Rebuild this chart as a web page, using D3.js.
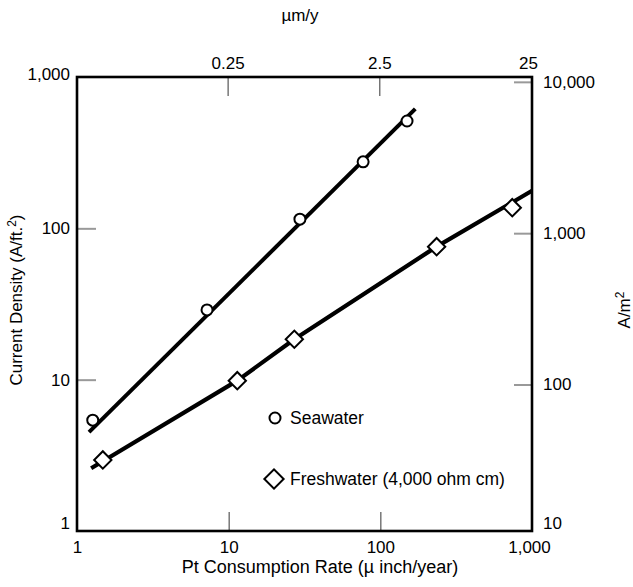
<!DOCTYPE html>
<html>
<head>
<meta charset="utf-8">
<script src="https://cdn.jsdelivr.net/npm/d3@7"></script>
<style>
  body { margin: 0; background: #fff; }
  svg text { font-family: "Liberation Sans", Arial, Helvetica, sans-serif; fill: #000; }
</style>
</head>
<body>
<svg id="chart" width="633" height="587"></svg>
<script>
// measured points, x = Pt consumption (µ inch/year), y = current density (A/ft²)
const seaX = [1.27, 7.2, 29.5, 77, 150]
const seaY = [5.4, 28.9, 115, 275, 512]
const freshX = [1.48, 11.4, 27.1, 235, 741]
const freshY = [2.95, 9.85, 18.5, 75.7, 137]

// hand drawn fit lines
const seaFitX = [1.2, 170]
const seaFitY = [4.5, 615]
const freshFitX = [1.24, 11.4, 27.1, 235, 1000]
const freshFitY = [2.6, 9.85, 18.5, 75.7, 177]

const bottomTicks = [1, 10, 100, 1000]
const leftTicks = [1, 10, 100, 1000]
const topTicks = [0.25, 2.5, 25]       // µm/y
const rightTicks = [10, 100, 1000, 10000] // A/m²

const seriesNames = ["Seawater", "Freshwater (4,000 ohm cm)"]

const UM_PER_UIN = 0.0254
const AM2_PER_AFT2 = 10.764

const svg = d3.select("#chart")
const margin = { top: 77, right: 101, bottom: 56, left: 77 }
const width = +svg.attr("width") - margin.left - margin.right
const height = +svg.attr("height") - margin.top - margin.bottom

const x = d3.scaleLog().domain([1, 1000]).range([0, width])
const y = d3.scaleLog().domain([1, 1000]).range([height, 0])
const xTop = d3.scaleLog().domain([UM_PER_UIN, 1000 * UM_PER_UIN]).range([0, width])
const yRight = d3.scaleLog().domain([AM2_PER_AFT2, 1000 * AM2_PER_AFT2]).range([height, 0])

const g = svg.append("g").attr("transform", "translate(" + margin.left + "," + margin.top + ")")

const fmt = d3.format(",")
const fs = "17px"

// axes, ticks drawn inward
const axB = g.append("g").attr("transform", "translate(0," + height + ")")
    .call(d3.axisBottom(x).tickValues(bottomTicks).tickFormat(fmt).tickSizeInner(-19).tickSizeOuter(0).tickPadding(10))
const axL = g.append("g")
    .call(d3.axisLeft(y).tickValues(leftTicks).tickFormat(fmt).tickSizeInner(-19).tickSizeOuter(0).tickPadding(7))
const axT = g.append("g")
    .call(d3.axisTop(xTop).tickValues(topTicks).tickFormat(d => d).tickSizeInner(-19).tickSizeOuter(0).tickPadding(8))
const axR = g.append("g").attr("transform", "translate(" + width + ",0)")
    .call(d3.axisRight(yRight).tickValues(rightTicks).tickFormat(fmt).tickSizeInner(-18).tickSizeOuter(0).tickPadding(11))

;[axB, axL, axT, axR].forEach(a => {
    a.select(".domain").remove()
    a.selectAll("text").style("font-size", fs).attr("fill", "#000")
})
axB.selectAll("line").attr("stroke", "#555").attr("stroke-width", 1.2)
axT.selectAll("line").attr("stroke", "#555").attr("stroke-width", 1.2)
axL.selectAll("line").attr("stroke", "#999").attr("stroke-width", 2)
axR.selectAll("line").attr("stroke", "#999").attr("stroke-width", 2)

// no tick marks at the corners
axB.selectAll(".tick").filter(d => d === 1 || d === 1000).select("line").remove()
axL.selectAll(".tick").filter(d => d === 1 || d === 1000).select("line").remove()
axT.selectAll(".tick").filter(d => d === 25).select("line").remove()
axR.selectAll(".tick").filter(d => d === 10).select("line").remove()
axB.selectAll(".tick").filter(d => d === 1000).select("text").attr("x", -3)
axT.selectAll(".tick").filter(d => d === 25).select("text").attr("x", -3)

// lowest labels sit above the corner
axL.selectAll(".tick").filter(d => d === 1).select("text").attr("y", -8)
axR.selectAll(".tick").filter(d => d === 10).select("text").attr("y", -13)
axL.selectAll(".tick").filter(d => d === 1000).select("text").attr("y", -3)

// frame
g.append("rect")
    .attr("width", width)
    .attr("height", height)
    .attr("fill", "none")
    .attr("stroke", "#000")
    .attr("stroke-width", 2.6)

// fit lines
const line = d3.line().x(d => x(d[0])).y(d => y(d[1]))
g.append("path")
    .datum(d3.zip(seaFitX, seaFitY))
    .attr("d", line)
    .attr("fill", "none").attr("stroke", "#000").attr("stroke-width", 4)
g.append("path")
    .datum(d3.zip(freshFitX, freshFitY))
    .attr("d", line)
    .attr("fill", "none").attr("stroke", "#000").attr("stroke-width", 4.2).attr("stroke-linejoin", "round")

// markers
g.selectAll(".sea")
    .data(d3.zip(seaX, seaY))
    .enter().append("circle")
    .attr("class", "sea")
    .attr("cx", d => x(d[0]))
    .attr("cy", d => y(d[1]))
    .attr("r", 5.5)
    .attr("fill", "#fff").attr("stroke", "#000").attr("stroke-width", 2)

const diamond = d3.symbol().type(d3.symbolSquare).size(150)
g.selectAll(".fresh")
    .data(d3.zip(freshX, freshY))
    .enter().append("path")
    .attr("class", "fresh")
    .attr("d", diamond)
    .attr("transform", d => "translate(" + x(d[0]) + "," + y(d[1]) + ") rotate(45)")
    .attr("fill", "#fff").attr("stroke", "#000").attr("stroke-width", 2)

// legend
const legend = svg.append("g").attr("transform", "translate(275,418)")
legend.append("circle").attr("r", 5.5)
    .attr("fill", "#fff").attr("stroke", "#000").attr("stroke-width", 2)
legend.append("text").attr("x", 15).attr("y", 6).style("font-size", "17.5px").text(seriesNames[0])
legend.append("path").attr("d", d3.symbol().type(d3.symbolSquare).size(185))
    .attr("transform", "translate(-1,61) rotate(45)")
    .attr("fill", "#fff").attr("stroke", "#000").attr("stroke-width", 2)
legend.append("text").attr("x", 15).attr("y", 67).style("font-size", "17.5px").text(seriesNames[1])

// axis titles
svg.append("text")
    .attr("x", 320)
    .attr("y", 573)
    .attr("text-anchor", "middle")
    .style("font-size", "18px")
    .text("Pt Consumption Rate (µ inch/year)")

svg.append("text")
    .attr("x", 300)
    .attr("y", 21)
    .attr("text-anchor", "middle")
    .style("font-size", "17px")
    .text("µm/y")

const yt = svg.append("text")
    .attr("transform", "translate(22,300) rotate(-90)")
    .attr("text-anchor", "middle")
    .style("font-size", "17px")
yt.append("tspan").text("Current Density (A/ft.")
yt.append("tspan").attr("dy", -6).style("font-size", "12px").text("2")
yt.append("tspan").attr("dy", 6).text(")")

const rt = svg.append("text")
    .attr("transform", "translate(630,310) rotate(-90)")
    .attr("text-anchor", "middle")
    .style("font-size", "17px")
rt.append("tspan").text("A/m")
rt.append("tspan").attr("dy", -6).style("font-size", "12px").text("2")
</script>
</body>
</html>
